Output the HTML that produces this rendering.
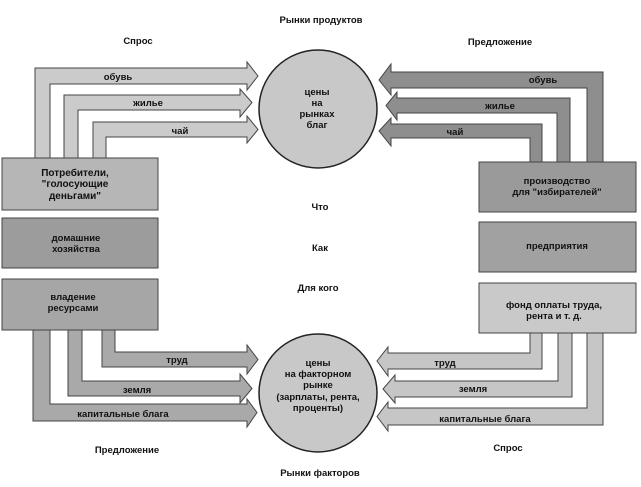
<!DOCTYPE html>
<html><head><meta charset="utf-8"><style>
html,body{margin:0;padding:0;background:#fff;}
svg{display:block;}
text{font-family:"Liberation Sans","DejaVu Sans",sans-serif;font-weight:bold;font-size:9.5px;fill:#111;text-anchor:middle;}
</style></head><body>
<svg width="641" height="487" viewBox="0 0 641 487" xmlns="http://www.w3.org/2000/svg">
<rect width="641" height="487" fill="#fff"/>
<g stroke="#444" stroke-width="1" stroke-linejoin="miter">
<!-- top-left arrows -->
<polygon fill="#cbcbcb" points="35,158 35,68 247,68 247,62 258,76 247,90 247,84 50,84 50,158"/>
<polygon fill="#cbcbcb" points="64,158 64,95 240,95 240,89 252,102.5 240,117 240,110 78,110 78,158"/>
<polygon fill="#cbcbcb" points="93,158 93,122 247,122 247,116 258,129.5 247,143 247,137 106,137 106,158"/>
<!-- top-right arrows -->
<polygon fill="#8e8e8e" points="603,162 603,72 391,72 391,64 379,80 391,95 391,88 587,88 587,162"/>
<polygon fill="#8e8e8e" points="570,162 570,98 397,98 397,92 386,105.5 397,120 397,113 557,113 557,162"/>
<polygon fill="#8e8e8e" points="542,162 542,124 391,124 391,118 379,131 391,146 391,138 530,138 530,162"/>
<!-- bottom-left arrows -->
<polygon fill="#a9a9a9" points="102,330 102,367 247,367 247,374 258,359.5 247,345 247,352 115,352 115,330"/>
<polygon fill="#a9a9a9" points="68,330 68,396 240,396 240,403 252,388.5 240,374 240,381 82,381 82,330"/>
<polygon fill="#a9a9a9" points="33,330 33,421 247,421 247,427 257,412.5 247,399 247,404 50,404 50,330"/>
<!-- bottom-right arrows -->
<polygon fill="#c6c6c6" points="542,333 542,369 388,369 388,376 377,361 388,347 388,353 530,353 530,333"/>
<polygon fill="#c6c6c6" points="572,333 572,397 395,397 395,403 383,389 395,375 395,381 558,381 558,333"/>
<polygon fill="#c6c6c6" points="603,333 603,425 388,425 388,431 377,416.5 388,402 388,408 587,408 587,333"/>
<!-- left boxes -->
<rect x="2" y="158" width="156" height="52" fill="#b6b6b6"/>
<rect x="2" y="218" width="156" height="50" fill="#9c9c9c"/>
<rect x="2" y="279" width="156" height="51" fill="#a6a6a6"/>
<!-- right boxes -->
<rect x="479" y="162" width="157" height="50" fill="#9a9a9a"/>
<rect x="479" y="222" width="157" height="50" fill="#a1a1a1"/>
<rect x="479" y="283" width="157" height="50" fill="#c9c9c9"/>
</g>
<!-- circles -->
<circle cx="318" cy="109" r="59" fill="#c8c8c8" stroke="#222" stroke-width="1.5"/>
<circle cx="318" cy="393" r="59" fill="#c8c8c8" stroke="#222" stroke-width="1.5"/>

<!-- headings -->
<text x="321" y="23">Рынки продуктов</text>
<text x="138" y="44">Спрос</text>
<text x="500" y="45">Предложение</text>
<text x="320" y="476">Рынки факторов</text>
<text x="127" y="453">Предложение</text>
<text x="508" y="451">Спрос</text>

<!-- center labels -->
<text x="320" y="210">Что</text>
<text x="320" y="251">Как</text>
<text x="318" y="291">Для кого</text>

<!-- arrow labels -->
<text x="118" y="80">обувь</text>
<text x="148" y="106">жилье</text>
<text x="180" y="134">чай</text>
<text x="543" y="83">обувь</text>
<text x="500" y="109">жилье</text>
<text x="455" y="135">чай</text>
<text x="177" y="363">труд</text>
<text x="137" y="393">земля</text>
<text x="123" y="417">капитальные блага</text>
<text x="445" y="366">труд</text>
<text x="473" y="392">земля</text>
<text x="485" y="422">капитальные блага</text>

<!-- circle text -->
<text x="317" y="95">цены</text>
<text x="317" y="106">на</text>
<text x="317" y="117">рынках</text>
<text x="317" y="128">благ</text>
<text x="318" y="366">цены</text>
<text x="318" y="377">на факторном</text>
<text x="318" y="388">рынке</text>
<text x="318" y="400">(зарплаты, рента,</text>
<text x="318" y="411">проценты)</text>

<!-- box text -->
<text x="75" y="176" style="font-size:10px">Потребители,</text>
<text x="75" y="187" style="font-size:10px">"голосующие</text>
<text x="75" y="199" style="font-size:10px">деньгами"</text>
<text x="76" y="241">домашние</text>
<text x="76" y="252">хозяйства</text>
<text x="73" y="300">владение</text>
<text x="73" y="311">ресурсами</text>
<text x="557" y="184">производство</text>
<text x="557" y="195">для "избирателей"</text>
<text x="557" y="249">предприятия</text>
<text x="554" y="308">фонд оплаты труда,</text>
<text x="554" y="319">рента и т. д.</text>
</svg>
</body></html>
